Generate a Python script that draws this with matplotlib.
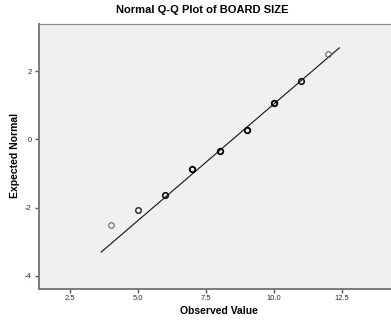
import matplotlib
matplotlib.use("Agg")
import matplotlib.pyplot as plt

# data
observed = [4, 5, 6, 7, 8, 9, 10, 11, 12]
expected = [-2.5, -2.08, -1.62, -0.88, -0.34, 0.28, 1.06, 1.71, 2.5]
line_x = [3.65, 12.4]
line_y = [-3.3, 2.68]
x_ticks = [2.5, 5.0, 7.5, 10.0, 12.5]
y_ticks = [-4, -2, 0, 2]

title = "Normal Q-Q Plot of BOARD SIZE"
x_label = "Observed Value"
y_label = "Expected Normal"

# marker edge widths (heavier where points overlap)
edge_w = [0.7, 1.0, 1.2, 1.3, 1.3, 1.3, 1.3, 1.2, 0.7]
edge_c = ["#555555", "#222222", "#111111", "#000000", "#000000",
          "#000000", "#000000", "#111111", "#555555"]

plt.rcParams["font.family"] = ["Liberation Sans", "DejaVu Sans"]

fig = plt.figure(figsize=(3.91, 3.2), dpi=100)
ax = fig.add_axes([38.5 / 391, (320 - 288.5) / 320, (400 - 38.5) / 391, (288.5 - 24.3) / 320])
ax.set_facecolor("#f0f0f0")

ax.plot(line_x, line_y, color="#111111", lw=0.8, zorder=2)
for x, y, w, c in zip(observed, expected, edge_w, edge_c):
    ax.plot(x, y, "o", ms=4.0, mfc="none", mec=c, mew=w, zorder=3)

ax.set_xlim(1.34, 14.63)
ax.set_ylim(-4.37, 3.37)
ax.set_xticks(x_ticks)
ax.set_xticklabels([f"{v:.1f}" for v in x_ticks])
ax.set_yticks(y_ticks)
ax.set_yticklabels([str(v) for v in y_ticks])
ax.tick_params(labelsize=5.5, labelcolor="#2a2a44", color="#555555",
               length=3, width=1, pad=2)

for side in ["left", "bottom"]:
    ax.spines[side].set_color("#7a7a7a")
    ax.spines[side].set_linewidth(1.4)
ax.spines["top"].set_color("#8a8a8a")
ax.spines["top"].set_linewidth(0.9)
ax.spines["right"].set_visible(False)

fig.text(202 / 391, 1 - 10 / 320, title, ha="center", va="center",
         fontsize=8, fontweight="bold")
fig.text(219 / 391, 1 - 311.5 / 320, x_label, ha="center", va="center",
         fontsize=7.5, fontweight="bold")
fig.text(15 / 391, 1 - 155 / 320, y_label, ha="center", va="center",
         rotation=90, fontsize=7.5, fontweight="bold")

fig.savefig("out.png", dpi=100)
